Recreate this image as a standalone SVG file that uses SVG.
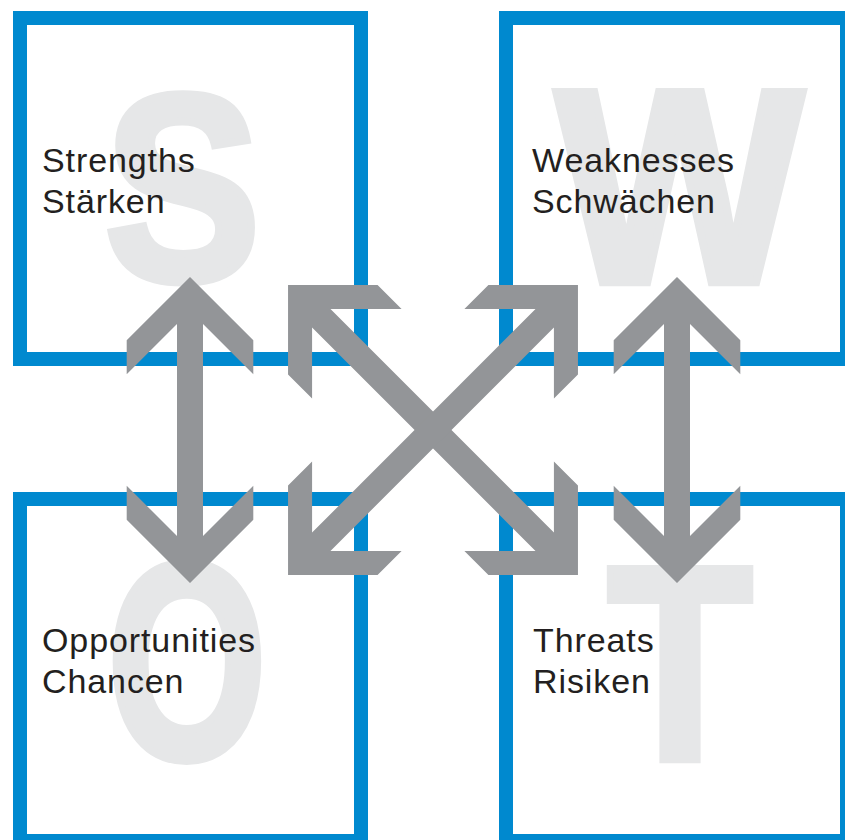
<svg xmlns="http://www.w3.org/2000/svg" xmlns:xlink="http://www.w3.org/1999/xlink" width="845" height="840" viewBox="0 0 845 840">
  <style>
    .frame { fill: #FFFFFF; stroke: #0089CF; stroke-width: 14; }
    .big { font-family: "Liberation Sans", Arial, sans-serif; font-weight: bold; font-size: 266px; fill: #E6E7E8; stroke: #E6E7E8; stroke-width: 8; stroke-linejoin: miter; text-anchor: middle; }
    .label { font-family: "Liberation Sans", Arial, sans-serif; font-size: 34px; fill: #231F20; letter-spacing: 0.9px; }
    .arrow { fill: #939598; }
  </style>
  <defs>
    <!-- double-headed arrow, shaft along the local y axis -->
    <polygon id="arrow-short" class="arrow" points="0,-153 63.3,-89.7 63.3,-55.7 13,-106 13,106 63.3,55.7 63.3,89.7 0,153 -63.3,89.7 -63.3,55.7 -13,106 -13,-106 -63.3,-55.7 -63.3,-89.7"/>
    <polygon id="arrow-long" class="arrow" points="0,-205 63.3,-141.7 63.3,-107.7 13,-158 13,158 63.3,107.7 63.3,141.7 0,205 -63.3,141.7 -63.3,107.7 -13,158 -13,-158 -63.3,-107.7 -63.3,-141.7"/>
  </defs>

  <g id="strengths">
    <rect class="frame" x="20" y="18" width="341" height="341"/>
    <text class="big" transform="translate(182.5,280) scale(0.88,1)">S</text>
    <text class="label" x="42" y="172">Strengths</text>
    <text class="label" x="42" y="213">Stärken</text>
  </g>

  <g id="weaknesses">
    <rect class="frame" x="506" y="18" width="341" height="341"/>
    <text class="big" transform="translate(679.5,282) scale(0.985,1.037)">W</text>
    <text class="label" x="532" y="172">Weaknesses</text>
    <text class="label" x="532" y="213">Schwächen</text>
  </g>

  <g id="opportunities">
    <rect class="frame" x="20" y="499" width="341" height="342"/>
    <text class="big" transform="translate(187,758) scale(0.77,1.05)">O</text>
    <text class="label" x="42" y="652">Opportunities</text>
    <text class="label" x="42" y="693">Chancen</text>
  </g>

  <g id="threats">
    <rect class="frame" x="506" y="499" width="341" height="342"/>
    <text class="big" transform="translate(680,759) scale(0.89,1.037)">T</text>
    <text class="label" x="533" y="652">Threats</text>
    <text class="label" x="533" y="693">Risiken</text>
  </g>

  <g id="connectors">
    <use xlink:href="#arrow-short" transform="translate(190,430)"/>
    <use xlink:href="#arrow-short" transform="translate(677,430)"/>
    <use xlink:href="#arrow-long" transform="translate(433,430) rotate(-45)"/>
    <use xlink:href="#arrow-long" transform="translate(433,430) rotate(45)"/>
  </g>
</svg>
